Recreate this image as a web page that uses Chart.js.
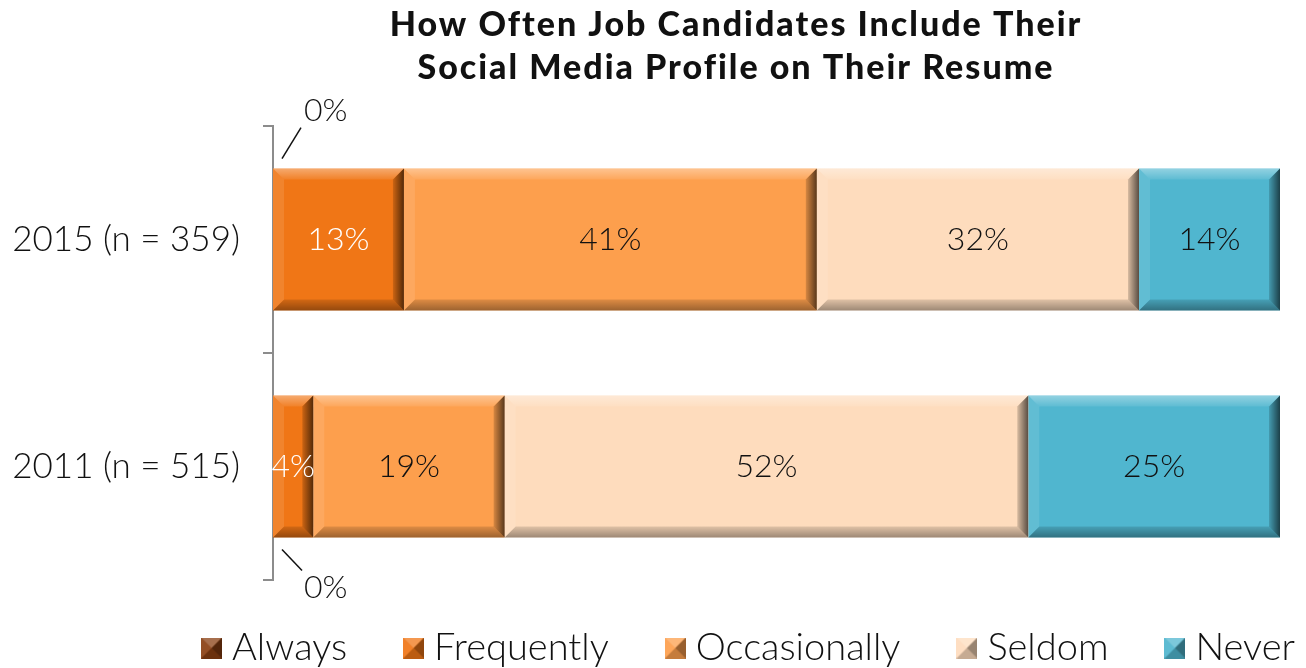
<!DOCTYPE html>
<html>
<head>
<meta charset="utf-8">
<title>Social media en el resume</title>
<script src="https://cdn.jsdelivr.net/npm/chart.js@4.4.1/dist/chart.umd.min.js"></script>
<style>
  html, body { margin: 0; padding: 0; background: #fff; }
  #wrap { width: 1306px; height: 668px; position: relative; }
</style>
</head>
<body>
<div id="wrap"><canvas id="renderCanva"></canvas></div>
<script>
const ctx = document.querySelector("#renderCanva");

// datos (porcentajes por año)
const categorias = ["2015 (n = 359)", "2011 (n = 515)"];
const series = ["Always", "Frequently", "Occasionally", "Seldom", "Never"];
const always = [0, 0];
const frequently = [13, 4];
const occasionally = [41, 19];
const seldom = [32, 52];
const never = [14, 25];
const tituloLineas = ["How Often Job Candidates Include Their", "Social Media Profile on Their Resume"];

const colores = ["#8a3f12", "#f07616", "#fd9f4d", "#fedcbd", "#50b6cf"];
const colorTexto = ["#ffffff", "#ffffff", "#111111", "#111111", "#111111"];
const FUENTE = "Lato, 'Open Sans', sans-serif";

const valores = [always, frequently, occasionally, seldom, never];

// poligono relleno
const poly = (c, pts, fill) => {
  c.beginPath();
  c.moveTo(pts[0][0], pts[0][1]);
  pts.slice(1).forEach((p) => c.lineTo(p[0], p[1]));
  c.closePath();
  c.fillStyle = fill;
  c.fill();
};

// icono de la leyenda, cuadrito tipo piramide
const iconoLeyenda = (color) => {
  const s = 21;
  const cv = document.createElement("canvas");
  cv.width = s;
  cv.height = s;
  const g = cv.getContext("2d");
  g.fillStyle = color;
  g.fillRect(0, 0, s, s);
  const m = s / 2;
  poly(g, [[0, 0], [s, 0], [m, m]], "rgba(255,255,255,0.25)");
  poly(g, [[0, s], [s, s], [m, m]], "rgba(0,0,0,0.22)");
  poly(g, [[0, 0], [0, s], [m, m]], "rgba(255,255,255,0.08)");
  poly(g, [[s, 0], [s, s], [m, m]], "rgba(0,0,0,0.4)");
  return cv;
};
const iconos = colores.map(iconoLeyenda);

// bisel sobre cada barra
const biselPlugin = {
  id: "bisel",
  afterDatasetsDraw(chart) {
    const c = chart.ctx;
    c.save();
    chart.data.datasets.forEach((ds, i) => {
      chart.getDatasetMeta(i).data.forEach((bar) => {
        const l = Math.min(bar.x, bar.base);
        const r = Math.max(bar.x, bar.base);
        const t = bar.y - bar.height / 2;
        const b = bar.y + bar.height / 2;
        if (r - l < 1) return;
        const bw = Math.min(11, (r - l) / 2);

        let gr = c.createLinearGradient(0, t, 0, t + bw);
        gr.addColorStop(0, "rgba(255,255,255,0.38)");
        gr.addColorStop(1, "rgba(255,255,255,0.08)");
        poly(c, [[l, t], [r, t], [r - bw, t + bw], [l + bw, t + bw]], gr);

        gr = c.createLinearGradient(0, b - bw, 0, b);
        gr.addColorStop(0, "rgba(0,0,0,0.12)");
        gr.addColorStop(1, "rgba(0,0,0,0.38)");
        poly(c, [[l, b], [r, b], [r - bw, b - bw], [l + bw, b - bw]], gr);

        poly(c, [[l, t], [l + bw, t + bw], [l + bw, b - bw], [l, b]], "rgba(255,255,255,0.1)");

        gr = c.createLinearGradient(r - bw, 0, r, 0);
        gr.addColorStop(0, "rgba(0,0,0,0.15)");
        gr.addColorStop(1, "rgba(0,0,0,0.65)");
        poly(c, [[r, t], [r - bw, t + bw], [r - bw, b - bw], [r, b]], gr);
      });
    });
    c.restore();
  },
};

// etiquetas de porcentaje, y los 0% con su lineita
const etiquetasPlugin = {
  id: "etiquetas",
  afterDatasetsDraw(chart) {
    const c = chart.ctx;
    c.save();
    c.font = `300 32px ${FUENTE}`;
    c.textBaseline = "middle";
    chart.data.datasets.forEach((ds, i) => {
      chart.getDatasetMeta(i).data.forEach((bar, j) => {
        const v = ds.data[j];
        const txt = v + "%";
        const t = bar.y - bar.height / 2;
        const b = bar.y + bar.height / 2;
        if (v === 0) {
          const x = bar.base;
          c.strokeStyle = "#111";
          c.lineWidth = 1.5;
          c.fillStyle = "#111";
          c.textAlign = "left";
          c.beginPath();
          if (j === 0) {
            c.moveTo(x + 9, t - 10);
            c.lineTo(x + 28, t - 41);
            c.stroke();
            c.fillText(txt, x + 31, t - 58);
          } else {
            c.moveTo(x + 9, b + 12);
            c.lineTo(x + 29, b + 33);
            c.stroke();
            c.fillText(txt, x + 31, b + 50);
          }
          return;
        }
        c.fillStyle = colorTexto[i];
        c.textAlign = "center";
        c.fillText(txt, (bar.x + bar.base) / 2, bar.y);
      });
    });
    c.restore();
  },
};

// titulo y leyenda a mano
const extrasPlugin = {
  id: "extras",
  afterDraw(chart) {
    const c = chart.ctx;
    c.save();
    c.fillStyle = "#111";
    c.font = `900 34px ${FUENTE}`;
    c.letterSpacing = "2px";
    c.textAlign = "center";
    c.textBaseline = "middle";
    c.fillText(tituloLineas[0], 736, 25);
    c.fillText(tituloLineas[1], 736, 68);
    c.letterSpacing = "0px";

    c.font = `300 38px ${FUENTE}`;
    c.textAlign = "left";
    const lado = 21;
    const gap = 10;
    const entre = 56;
    let total = 0;
    series.forEach((s) => (total += lado + gap + c.measureText(s).width));
    total += entre * (series.length - 1);
    let x = 748 - total / 2;
    const y = 648;
    series.forEach((s, i) => {
      c.drawImage(iconos[i], x, y - lado / 2);
      x += lado + gap;
      c.fillStyle = "#111";
      c.fillText(s, x, y);
      x += c.measureText(s).width + entre;
    });
    c.restore();
  },
};

const myChart = new Chart(ctx, {
  type: "bar",
  data: {
    labels: categorias,
    datasets: series.map((s, i) => ({
      label: s,
      data: valores[i],
      backgroundColor: colores[i],
      borderWidth: 0,
      categoryPercentage: 1,
      barPercentage: 0.625,
    })),
  },
  options: {
    indexAxis: "y",
    responsive: true,
    maintainAspectRatio: false,
    animation: false,
    layout: {
      padding: { top: 126, bottom: 88, right: 26, left: 0 },
    },
    plugins: {
      legend: { display: false },
      title: { display: false },
      tooltip: { enabled: false },
    },
    scales: {
      x: {
        stacked: true,
        min: 0,
        max: 100,
        display: false,
      },
      y: {
        stacked: true,
        afterFit: (scale) => {
          scale.width = 273;
        },
        border: { display: true, color: "#8c8c8c", width: 2 },
        grid: {
          offset: true,
          drawOnChartArea: false,
          drawTicks: true,
          tickLength: 10,
          color: "#8c8c8c",
          lineWidth: 2,
        },
        ticks: {
          padding: 23,
          color: "#111",
          font: { family: FUENTE, size: 35, weight: 300 },
        },
      },
    },
  },
  plugins: [biselPlugin, etiquetasPlugin, extrasPlugin],
});
</script>
</body>
</html>
